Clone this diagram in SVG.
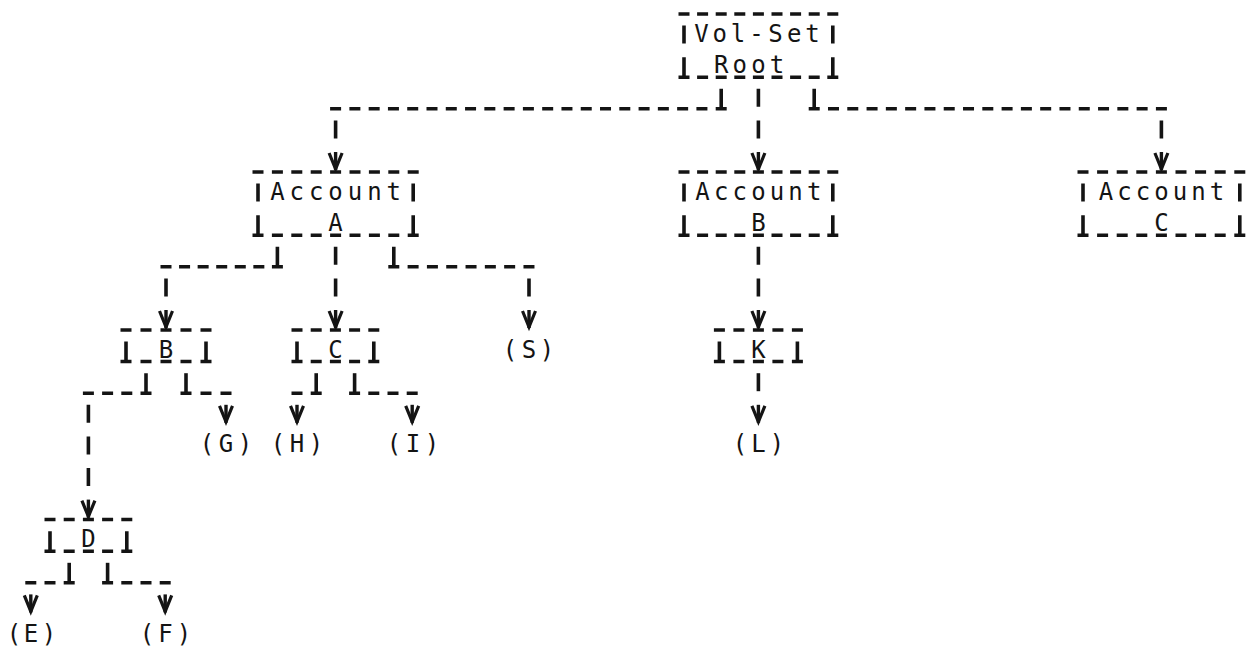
<svg xmlns="http://www.w3.org/2000/svg" xmlns:xlink="http://www.w3.org/1999/xlink" width="1254" height="651" viewBox="0 0 1254 651">
<style>
  .run{stroke:#141414;stroke-width:3.5;fill:none}
  .bar{stroke:#141414;stroke-width:3.6;fill:none}
  .t{font-family:"DejaVu Sans Mono","Liberation Mono",monospace;font-size:24px;fill:#141414;text-anchor:middle}
</style>
<defs>
  <!-- typewriter arrowhead: a V struck over a bar -->
  <g id="vhead">
    <path d="M-6.5,-19 L0,-3 L6.5,-19" fill="none" stroke="#141414" stroke-width="3.2"/>
    <path d="M0,-20 V-2" fill="none" stroke="#141414" stroke-width="3.4"/>
  </g>
</defs>
<rect width="1254" height="651" fill="#ffffff"/>

<!-- connectors -->
<g id="connectors">
  <g id="e-root-a">
    <path class="bar" d="M721.2,88.8V108.8 M335.6,120.4V138.4"/>
    <line class="run" x1="330.1" y1="108.8" x2="726.7" y2="108.8" stroke-dasharray="11 8.28"/>
    <use xlink:href="#vhead" x="335.6" y="172"/>
  </g>
  <g id="e-root-b">
    <path class="bar" d="M758.4,88.8V106.8 M758.4,120.4V138.4"/>
    <use xlink:href="#vhead" x="758.4" y="172"/>
  </g>
  <g id="e-root-c">
    <path class="bar" d="M814.2,88.8V108.8 M1161.4,120.4V138.4"/>
    <line class="run" x1="808.7" y1="108.8" x2="1166.9" y2="108.8" stroke-dasharray="11 8.29"/>
    <use xlink:href="#vhead" x="1161.4" y="172"/>
  </g>
  <g id="e-a-b">
    <path class="bar" d="M277.4,246.8V266.8 M166,278.4V296.4"/>
    <line class="run" x1="160.5" y1="266.8" x2="282.9" y2="266.8" stroke-dasharray="11 7.57"/>
    <use xlink:href="#vhead" x="166" y="330"/>
  </g>
  <g id="e-a-c">
    <path class="bar" d="M335.6,246.8V264.8 M335.6,278.4V296.4"/>
    <use xlink:href="#vhead" x="335.6" y="330"/>
  </g>
  <g id="e-a-s">
    <path class="bar" d="M393.8,246.8V266.8 M529,278.4V296.4"/>
    <line class="run" x1="388.3" y1="266.8" x2="534.5" y2="266.8" stroke-dasharray="11 8.31"/>
    <use xlink:href="#vhead" x="529" y="330"/>
  </g>
  <g id="e-accb-k">
    <path class="bar" d="M758.4,246.8V264.8 M758.4,278.4V296.4"/>
    <use xlink:href="#vhead" x="758.4" y="330"/>
  </g>
  <g id="e-b-d">
    <path class="bar" d="M146,373.2V393.2 M88.4,404.8V422.8 M88.4,436.4V454.4 M88.4,468V486"/>
    <line class="run" x1="82.9" y1="393.2" x2="151.5" y2="393.2" stroke-dasharray="11 8.2"/>
    <use xlink:href="#vhead" x="88.4" y="519.6"/>
  </g>
  <g id="e-b-g">
    <path class="bar" d="M186,373.2V393.2"/>
    <line class="run" x1="180.5" y1="393.2" x2="231.5" y2="393.2" stroke-dasharray="11 9"/>
    <use xlink:href="#vhead" x="226" y="424.8"/>
  </g>
  <g id="e-c-h">
    <path class="bar" d="M316.2,373.2V393.2"/>
    <line class="run" x1="291.5" y1="393.2" x2="321.7" y2="393.2" stroke-dasharray="11 8.2"/>
    <use xlink:href="#vhead" x="297" y="424.8"/>
  </g>
  <g id="e-c-i">
    <path class="bar" d="M354.6,373.2V393.2"/>
    <line class="run" x1="349.1" y1="393.2" x2="417.7" y2="393.2" stroke-dasharray="11 8.2"/>
    <use xlink:href="#vhead" x="412.2" y="424.8"/>
  </g>
  <g id="e-k-l">
    <path class="bar" d="M758.4,373.2V391.2"/>
    <use xlink:href="#vhead" x="758.4" y="424.8"/>
  </g>
  <g id="e-d-e">
    <path class="bar" d="M69.2,562.8V582.8"/>
    <line class="run" x1="25.3" y1="582.8" x2="74.7" y2="582.8" stroke-dasharray="11 8.2"/>
    <use xlink:href="#vhead" x="30.8" y="614.4"/>
  </g>
  <g id="e-d-f">
    <path class="bar" d="M107.6,562.8V582.8"/>
    <line class="run" x1="102.1" y1="582.8" x2="170.7" y2="582.8" stroke-dasharray="11 8.2"/>
    <use xlink:href="#vhead" x="165.2" y="614.4"/>
  </g>
</g>

<!-- boxed nodes -->
<g id="node-root">
  <line class="run" x1="678.5" y1="14" x2="838.3" y2="14" stroke-dasharray="11 7.6"/>
  <line class="run" x1="678.5" y1="77.2" x2="838.3" y2="77.2" stroke-dasharray="11 7.6"/>
  <path class="bar" d="M684,25.6V43.6 M684,57.2V77.2 M832.8,25.6V43.6 M832.8,57.2V77.2"/>
  <text class="t" x="701.5 719.8 738 756.6 775.4 794.2 812.6" y="41.6">Vol-Set</text>
  <text class="t" x="721.2 739.8 758.4 777" y="73.2">Root</text>
</g>

<g id="node-account-a">
  <line class="run" x1="252.5" y1="172" x2="418.7" y2="172" stroke-dasharray="11 8.4"/>
  <line class="run" x1="252.5" y1="235.2" x2="418.7" y2="235.2" stroke-dasharray="11 8.4"/>
  <path class="bar" d="M258,183.6V201.6 M258,215.2V235.2 M413.2,183.6V201.6 M413.2,215.2V235.2"/>
  <text class="t" x="277.4 296.8 316.2 335.6 355 374.4 393.8" y="199.6">Account</text>
  <text class="t" x="335.6" y="231.2">A</text>
</g>

<g id="node-account-b">
  <line class="run" x1="678.5" y1="172" x2="838.3" y2="172" stroke-dasharray="11 7.6"/>
  <line class="run" x1="678.5" y1="235.2" x2="838.3" y2="235.2" stroke-dasharray="11 7.6"/>
  <path class="bar" d="M684,183.6V201.6 M684,215.2V235.2 M832.8,183.6V201.6 M832.8,215.2V235.2"/>
  <text class="t" x="702.6 721.2 739.8 758.4 777 795.6 814.2" y="199.6">Account</text>
  <text class="t" x="758.4" y="231.2">B</text>
</g>

<g id="node-account-c">
  <line class="run" x1="1077.5" y1="172" x2="1245.3" y2="172" stroke-dasharray="11 8.6"/>
  <line class="run" x1="1077.5" y1="235.2" x2="1245.3" y2="235.2" stroke-dasharray="11 8.6"/>
  <path class="bar" d="M1083,183.6V201.6 M1083,215.2V235.2 M1239.8,183.6V201.6 M1239.8,215.2V235.2"/>
  <text class="t" x="1106 1124.5 1143 1161.6 1180 1198.6 1217" y="199.6">Account</text>
  <text class="t" x="1161.4" y="231.2">C</text>
</g>

<g id="node-b">
  <line class="run" x1="120.5" y1="330" x2="211.5" y2="330" stroke-dasharray="11 9"/>
  <line class="run" x1="120.5" y1="361.6" x2="211.5" y2="361.6" stroke-dasharray="11 9"/>
  <path class="bar" d="M126,341.6V361.6 M206,341.6V361.6"/>
  <text class="t" x="166" y="357.6">B</text>
</g>

<g id="node-c">
  <line class="run" x1="291.5" y1="330" x2="379.3" y2="330" stroke-dasharray="11 8.2"/>
  <line class="run" x1="291.5" y1="361.6" x2="379.3" y2="361.6" stroke-dasharray="11 8.2"/>
  <path class="bar" d="M297,341.6V361.6 M373.8,341.6V361.6"/>
  <text class="t" x="335.4" y="357.6">C</text>
</g>

<g id="node-k">
  <line class="run" x1="713.9" y1="330" x2="802.9" y2="330" stroke-dasharray="11 8.5"/>
  <line class="run" x1="713.9" y1="361.6" x2="802.9" y2="361.6" stroke-dasharray="11 8.5"/>
  <path class="bar" d="M719.4,341.6V361.6 M797.4,341.6V361.6"/>
  <text class="t" x="758.4" y="357.6">K</text>
</g>

<g id="node-d">
  <line class="run" x1="44.5" y1="519.6" x2="132.3" y2="519.6" stroke-dasharray="11 8.2"/>
  <line class="run" x1="44.5" y1="551.2" x2="132.3" y2="551.2" stroke-dasharray="11 8.2"/>
  <path class="bar" d="M50,531.2V551.2 M126.8,531.2V551.2"/>
  <text class="t" x="88.4" y="547.2">D</text>
</g>

<!-- leaf nodes -->
<g id="leaf-s"><text class="t" x="510 529 547" y="357.6">(S)</text></g>
<g id="leaf-g"><text class="t" x="207 226 245" y="452.4">(G)</text></g>
<g id="leaf-h"><text class="t" x="278 297 316" y="452.4">(H)</text></g>
<g id="leaf-i"><text class="t" x="394 413 432" y="452.4">(I)</text></g>
<g id="leaf-l"><text class="t" x="740 758.4 777" y="452.4">(L)</text></g>
<g id="leaf-e"><text class="t" x="14 31 49" y="642">(E)</text></g>
<g id="leaf-f"><text class="t" x="147 165.5 184" y="642">(F)</text></g>
</svg>
